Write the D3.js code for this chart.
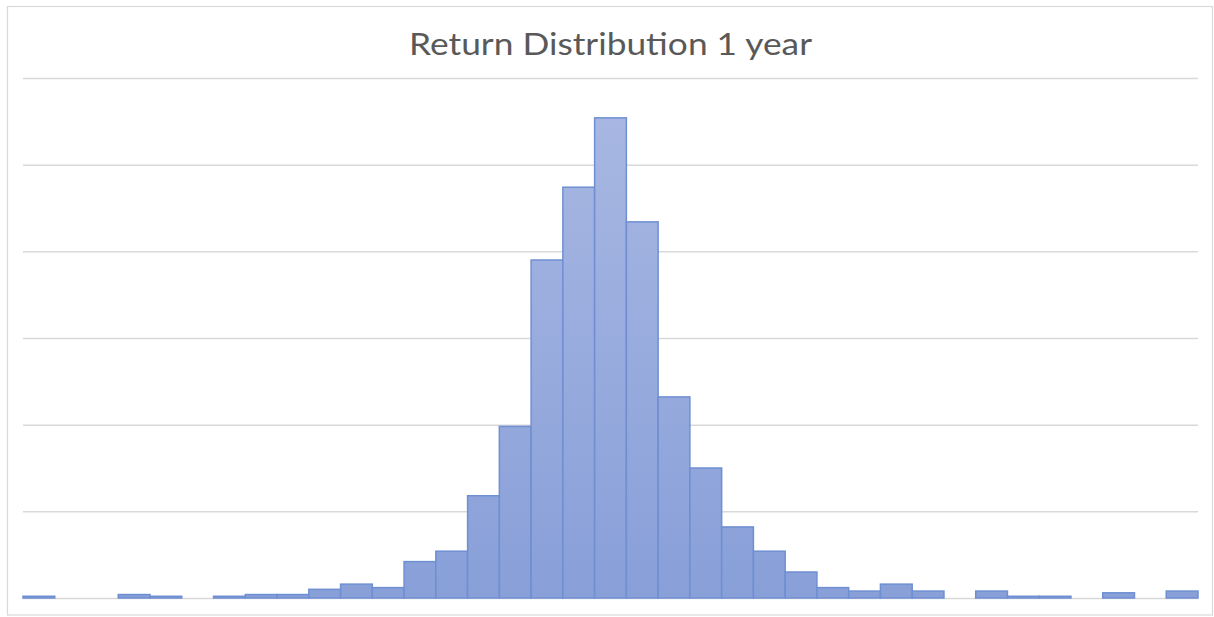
<!DOCTYPE html>
<html>
<head>
<meta charset="utf-8">
<script src="https://cdn.jsdelivr.net/npm/d3@7"></script>
<style>
  html, body { margin: 0; padding: 0; background: #fff; }
  svg { display: block; }
</style>
</head>
<body>
<svg id="chart" width="1214" height="617"></svg>
<script>
// ---- data ----
const title = "Return Distribution 1 year";
const bins = d3.range(37).map(i => "b" + (i + 1));
const counts = [1, 0, 0, 2, 1, 0, 1, 2, 2, 5, 8, 6, 21, 27, 59, 99, 195, 237, 277, 217, 116, 75, 41, 27, 15, 6, 4, 8, 4, 0, 4, 1, 1, 0, 3, 0, 4];
const yTicks = [0, 50, 100, 150, 200, 250, 300];

// ---- layout ----
const svg = d3.select("#chart");
const plot = { left: 23, right: 1198, top: 78, bottom: 598 };

// chart border
svg.append("rect")
  .attr("x", 7.5).attr("y", 6.5)
  .attr("width", 1205).attr("height", 608.5)
  .attr("fill", "#fff").attr("stroke", "#d9d9d9").attr("stroke-width", 1.2);

const x = d3.scaleBand().domain(bins).range([plot.left, plot.right]).paddingInner(0).paddingOuter(0);
const y = d3.scaleLinear().domain([0, 300]).range([plot.bottom, plot.top]);

// gridlines
const grid = svg.append("g")
  .attr("transform", `translate(${plot.left},0)`)
  .call(d3.axisLeft(y).tickValues(yTicks).tickSize(-(plot.right - plot.left)).tickFormat(""));
grid.select(".domain").remove();
grid.selectAll(".tick line").attr("stroke", "#d9d9d9").attr("stroke-width", 1.5);

// gradient
const defs = svg.append("defs");
const grad = defs.append("linearGradient")
  .attr("id", "barGrad").attr("gradientUnits", "userSpaceOnUse")
  .attr("x1", 0).attr("x2", 0).attr("y1", plot.top).attr("y2", plot.bottom);
grad.append("stop").attr("offset", "0%").attr("stop-color", "#aab9e3");
grad.append("stop").attr("offset", "100%").attr("stop-color", "#889fd8");

// bars
svg.append("g").selectAll("rect")
  .data(counts.map((v, i) => ({ bin: bins[i], v })).filter(d => d.v > 0))
  .join("rect")
  .attr("x", d => x(d.bin))
  .attr("y", d => y(d.v))
  .attr("width", x.bandwidth())
  .attr("height", d => y(0) - y(d.v))
  .attr("fill", "url(#barGrad)")
  .attr("stroke", "#6f8fd3")
  .attr("stroke-width", 1.5);

// title
svg.append("text")
  .attr("x", 610.5).attr("y", 54.5)
  .attr("text-anchor", "middle")
  .attr("font-family", "Lato, 'Open Sans', sans-serif")
  .attr("font-size", 31)
  .attr("fill", "#595959")
  .attr("textLength", 403)
  .attr("lengthAdjust", "spacingAndGlyphs")
  .text(title);
</script>
</body>
</html>
